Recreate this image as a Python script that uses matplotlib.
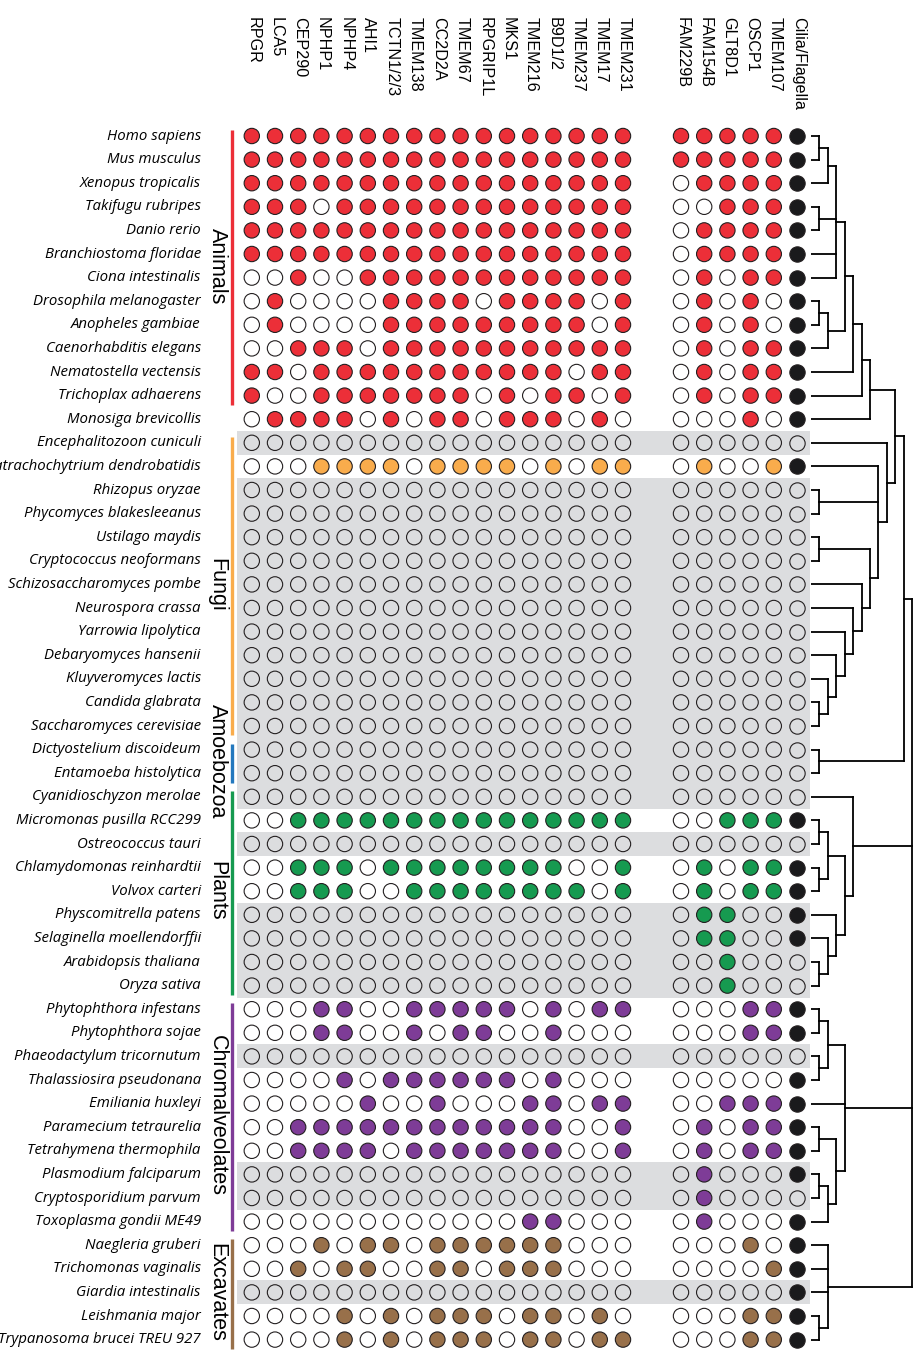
import matplotlib

matplotlib.use("Agg")

import matplotlib.pyplot as plt
from matplotlib.collections import LineCollection

# transition-zone module genes, then the newly proposed candidates
tz_genes = ["RPGR", "LCA5", "CEP290", "NPHP1", "NPHP4", "AHI1", "TCTN1/2/3",
            "TMEM138", "CC2D2A", "TMEM67", "RPGRIP1L", "MKS1", "TMEM216",
            "B9D1/2", "TMEM237", "TMEM17", "TMEM231"]
new_genes = ["FAM229B", "FAM154B", "GLT8D1", "OSCP1", "TMEM107"]
cilia_label = "Cilia/Flagella"

species = [
    "Homo sapiens", "Mus musculus", "Xenopus tropicalis", "Takifugu rubripes",
    "Danio rerio", "Branchiostoma floridae", "Ciona intestinalis",
    "Drosophila melanogaster", "Anopheles gambiae", "Caenorhabditis elegans",
    "Nematostella vectensis", "Trichoplax adhaerens", "Monosiga brevicollis",
    "Encephalitozoon cuniculi", "Batrachochytrium dendrobatidis",
    "Rhizopus oryzae", "Phycomyces blakesleeanus", "Ustilago maydis",
    "Cryptococcus neoformans", "Schizosaccharomyces pombe", "Neurospora crassa",
    "Yarrowia lipolytica", "Debaryomyces hansenii", "Kluyveromyces lactis",
    "Candida glabrata", "Saccharomyces cerevisiae", "Dictyostelium discoideum",
    "Entamoeba histolytica", "Cyanidioschyzon merolae",
    "Micromonas pusilla RCC299", "Ostreococcus tauri",
    "Chlamydomonas reinhardtii", "Volvox carteri", "Physcomitrella patens",
    "Selaginella moellendorffii", "Arabidopsis thaliana", "Oryza sativa",
    "Phytophthora infestans", "Phytophthora sojae",
    "Phaeodactylum tricornutum", "Thalassiosira pseudonana",
    "Emiliania huxleyi", "Paramecium tetraurelia", "Tetrahymena thermophila",
    "Plasmodium falciparum", "Cryptosporidium parvum", "Toxoplasma gondii ME49",
    "Naegleria gruberi", "Trichomonas vaginalis", "Giardia intestinalis",
    "Leishmania major", "Trypanosoma brucei TREU 927",
]

# dot colour key per species (Monosiga coloured with the animals)
clade = (["Animals"] * 13 + ["Fungi"] * 13 + ["Amoebozoa"] * 2
         + ["Plants"] * 9 + ["Chromalveolates"] * 10 + ["Excavates"] * 5)

# labelled side bars: (label, first species, last species)
bar_groups = [
    ("Animals", "Homo sapiens", "Trichoplax adhaerens"),
    ("Fungi", "Encephalitozoon cuniculi", "Saccharomyces cerevisiae"),
    ("Amoebozoa", "Dictyostelium discoideum", "Entamoeba histolytica"),
    ("Plants", "Cyanidioschyzon merolae", "Oryza sativa"),
    ("Chromalveolates", "Phytophthora infestans", "Toxoplasma gondii ME49"),
    ("Excavates", "Naegleria gruberi", "Trypanosoma brucei TREU 927"),
]

clade_colors = {
    "Animals": "#EC2F38", "Fungi": "#F9AC4C", "Amoebozoa": "#2378BE",
    "Plants": "#169A50", "Chromalveolates": "#7E3C97", "Excavates": "#98704A",
}

Z = "0" * 17
tz_hits = [
    "11111111111111111", "11111111111111111", "11111111111111111",
    "11101111111111111", "11111111111111111", "11111111111111111",
    "00100111111111111", "01000011110111101", "01000011111111101",
    "00111011111111111", "11011111111111011", "10011111110101101",
    "01111010110111010",
    Z, "00011110111101011", Z, Z, Z, Z, Z, Z, Z, Z, Z, Z, Z,
    Z, Z,
    Z, "00111111111111111", Z, "00111011111111001", "00111001111111101",
    Z, Z, Z, Z,
    "00011001111101011", "00011001011001000", Z, "00001011111101000",
    "00000100100011011", "00111111111111001", "00111101111111001",
    Z, Z, "00000000000011000",
    "00010110111111000", "00101100110111000", Z, "00001010111011010",
    "00001010111011011",
]

new_hits = [
    "11111", "11111", "01111", "00111", "01111", "01111", "01011",
    "01010", "01010", "01011", "01011", "01011", "00010",
    "00000", "01001", "00000", "00000", "00000", "00000", "00000", "00000",
    "00000", "00000", "00000", "00000", "00000",
    "00000", "00000",
    "00000", "00111", "00000", "01011", "01011", "01100", "01100", "00100",
    "00100",
    "00011", "00011", "00000", "00000", "00111", "01011", "01011", "01000",
    "01000", "01000",
    "00010", "00001", "00000", "00011", "00011",
]

ciliated = ("1111111111111" "0100000000000" "00" "010111100"
            "1101111101" "11111")

# species shaded grey in the matrix
shaded = [
    "Encephalitozoon cuniculi", "Rhizopus oryzae", "Phycomyces blakesleeanus",
    "Ustilago maydis", "Cryptococcus neoformans", "Schizosaccharomyces pombe",
    "Neurospora crassa", "Yarrowia lipolytica", "Debaryomyces hansenii",
    "Kluyveromyces lactis", "Candida glabrata", "Saccharomyces cerevisiae",
    "Dictyostelium discoideum", "Entamoeba histolytica",
    "Cyanidioschyzon merolae", "Ostreococcus tauri", "Physcomitrella patens",
    "Selaginella moellendorffii", "Arabidopsis thaliana", "Oryza sativa",
    "Phaeodactylum tricornutum", "Plasmodium falciparum",
    "Cryptosporidium parvum", "Giardia intestinalis",
]

# species tree: (node depth, children...), leaves are species names
animals = (7, (6, (5, (4,
    (3, (2, (1, "Homo sapiens", "Mus musculus"), "Xenopus tropicalis"),
        (1, "Takifugu rubripes", "Danio rerio"),
        "Branchiostoma floridae", "Ciona intestinalis"),
    (2, (1, "Drosophila melanogaster", "Anopheles gambiae"),
        "Caenorhabditis elegans")),
    "Nematostella vectensis"), "Trichoplax adhaerens"),
    "Monosiga brevicollis")
fungi = (9, "Encephalitozoon cuniculi",
         (8, "Batrachochytrium dendrobatidis",
          (1, "Rhizopus oryzae", "Phycomyces blakesleeanus"),
          (7, (1, "Ustilago maydis", "Cryptococcus neoformans"),
           (6, "Schizosaccharomyces pombe",
            (5, "Neurospora crassa",
             (4, "Yarrowia lipolytica",
              (3, "Debaryomyces hansenii",
               (2, "Kluyveromyces lactis",
                (1, "Candida glabrata", "Saccharomyces cerevisiae")))))))))
amorphea = (11, (10, animals, fungi),
            (1, "Dictyostelium discoideum", "Entamoeba histolytica"))
plants = (5, "Cyanidioschyzon merolae",
          (4, (2, (1, "Micromonas pusilla RCC299", "Ostreococcus tauri"),
               (1, "Chlamydomonas reinhardtii", "Volvox carteri")),
           (3, "Physcomitrella patens",
            (2, "Selaginella moellendorffii",
             (1, "Arabidopsis thaliana", "Oryza sativa")))))
chromalveolates = (4, (2, (1, "Phytophthora infestans", "Phytophthora sojae"),
                       (1, "Phaeodactylum tricornutum",
                        "Thalassiosira pseudonana")),
                   "Emiliania huxleyi",
                   (3, (1, "Paramecium tetraurelia", "Tetrahymena thermophila"),
                    (2, (1, "Plasmodium falciparum", "Cryptosporidium parvum"),
                     "Toxoplasma gondii ME49")))
excavates = (2, "Naegleria gruberi", "Trichomonas vaginalis",
             "Giardia intestinalis",
             (1, "Leishmania major", "Trypanosoma brucei TREU 927"))
tree = (12, amorphea, plants, chromalveolates, excavates)

# ---------------------------------------------------------------- layout
W, H = 921, 1350
COL_PX, ROW_PX = 23.2, 23.6      # pixel pitch of the dot grid
X0_PX, Y0_PX = 251.8, 136.0      # centre of the first dot
GAP = 1.5                        # extra columns between the two gene blocks

plt.rcParams["font.family"] = ["Liberation Sans", "DejaVu Sans"]
fig = plt.figure(figsize=(W / 100, H / 100), dpi=100)
ax = fig.add_axes([0, 0, 1, 1])
ax.set_xlim(-X0_PX / COL_PX, (W - X0_PX) / COL_PX)
ax.set_ylim((H - Y0_PX) / ROW_PX, -Y0_PX / ROW_PX)
ax.axis("off")

row = {s: i for i, s in enumerate(species)}
n_tz = len(tz_genes)
tz_x = list(range(n_tz))
new_x = [n_tz + GAP + i for i in range(len(new_genes))]
cil_x = new_x[-1] + 1

# grey row shading
shade_rows = [row[s] for s in shaded]
ax.barh(shade_rows, width=24.7, left=-0.64, height=1.02, color="#DCDDDF",
        lw=0, zorder=0)

# headers
for x, g in zip(tz_x + new_x + [cil_x], tz_genes + new_genes + [cilia_label]):
    ax.text(x + 0.05, -5.04, g, rotation=-90, ha="center", va="top",
            fontsize=11.6)

# dots
edge = "#231F20"
for i, s in enumerate(species):
    grey = s in shaded
    empty = "none" if grey else "white"
    hits = [int(c) for c in tz_hits[i]] + [int(c) for c in new_hits[i]]
    xs = tz_x + new_x
    fc = [clade_colors[clade[i]] if h else empty for h in hits]
    ax.scatter(xs, [i] * len(xs), s=122, c=fc, edgecolors=edge,
               linewidths=0.8, zorder=3)
    ax.scatter([cil_x], [i], s=122, c=["#1A1A1C" if ciliated[i] == "1"
                                       else empty],
               edgecolors=edge, linewidths=0.8, zorder=3)

# species names
for i, s in enumerate(species):
    ax.text(-2.2, i, s, ha="right", va="center", fontsize=10.8,
            style="italic", family=["Open Sans", "DejaVu Sans"])

# clade bars and labels
for label, first, last in bar_groups:
    a, b = row[first], row[last]
    ax.vlines(-0.85, a - 0.25, b + 0.4, color=clade_colors[label], lw=2.4)
    ax.text(-1.5, (a + b) / 2, label, rotation=-90, ha="center",
            va="center", fontsize=15.5)

# species tree
tx = fig.add_axes([811 / W, 0, 110 / W, 1])
tx.set_xlim(0, 110 / 8.42)
tx.set_ylim(ax.get_ylim())
tx.axis("off")
segs = []


def walk(node):
    if isinstance(node, str):
        return row[node], 0
    depth, *kids = node
    ys = []
    for k in kids:
        y, x = walk(k)
        segs.append([(x, y), (depth, y)])
        ys.append(y)
    segs.append([(depth, min(ys)), (depth, max(ys))])
    return (ys[0] + ys[-1]) / 2, depth


walk(tree)
tx.add_collection(LineCollection(segs, colors="black", linewidths=1.3,
                                 capstyle="projecting"))

fig.savefig("out.png", dpi=100)
